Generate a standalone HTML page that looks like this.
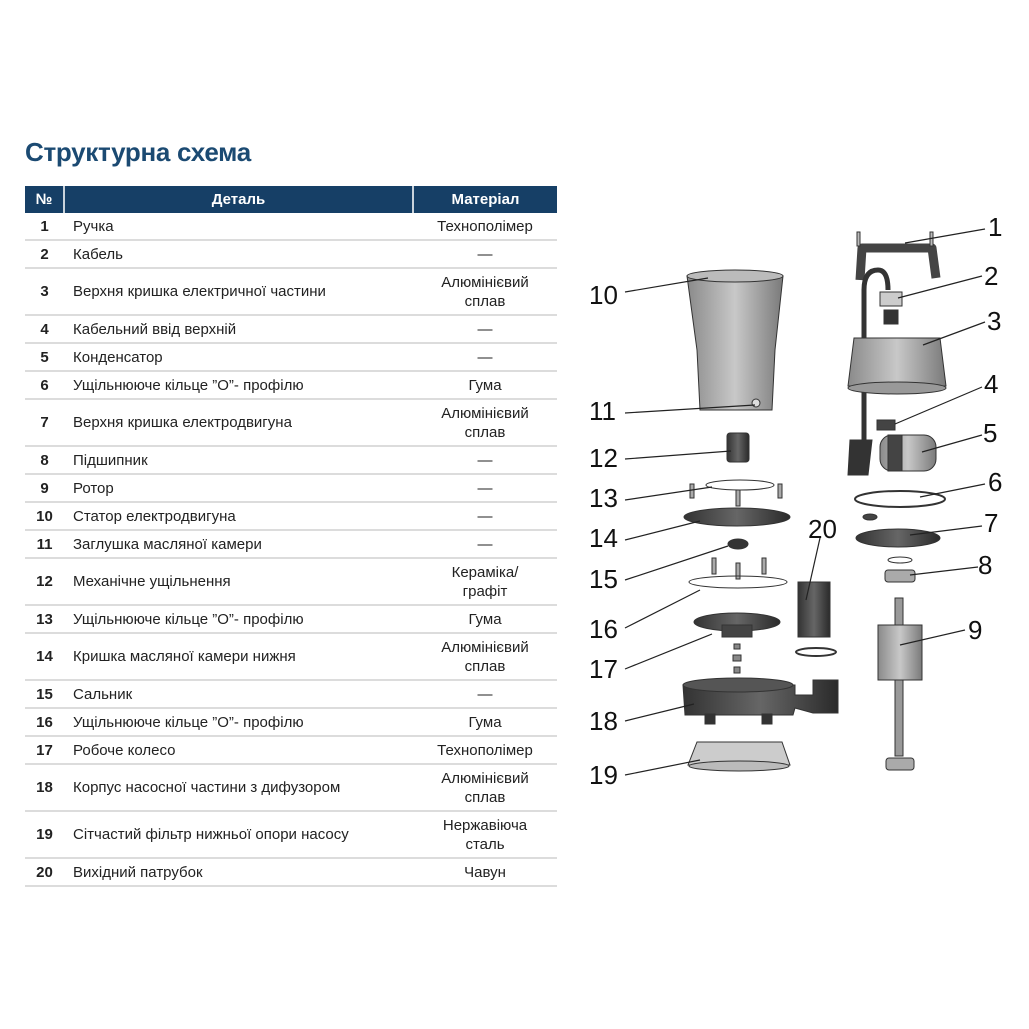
<!DOCTYPE html>
<html><head><meta charset="utf-8"><style>
body{margin:0;width:1029px;height:1029px;background:#fff;position:relative;font-family:"Liberation Sans",sans-serif;overflow:hidden}
h1{position:absolute;left:25px;top:137px;margin:0;font-size:26px;color:#1b4a72;font-weight:bold;letter-spacing:-0.3px}
table{position:absolute;left:25px;top:186px;width:532px;border-collapse:collapse;font-size:15px;color:#222}
th{background:#163f66;color:#fff;height:27px;padding:0;font-size:15px;border-right:2px solid #c9d3dc}
th:last-child{border-right:none}
td{border-bottom:2px solid #dcdcdc;padding:0;line-height:19px}
td.n{text-align:center;font-weight:bold;width:38px}
td.d{padding-left:9px}
td.m{text-align:center;width:143px}
tr.s td{height:26px}
tr.w td{height:45px}
svg{position:absolute;left:0;top:0}
</style></head><body>
<h1>Структурна схема</h1>
<table>
<tr><th style="width:38px">№</th><th>Деталь</th><th style="width:143px">Матеріал</th></tr>
<tr class="s"><td class="n">1</td><td class="d">Ручка</td><td class="m">Технополімер</td></tr>
<tr class="s"><td class="n">2</td><td class="d">Кабель</td><td class="m">—</td></tr>
<tr class="w"><td class="n">3</td><td class="d">Верхня кришка електричної частини</td><td class="m">Алюмінієвий<br>сплав</td></tr>
<tr class="s"><td class="n">4</td><td class="d">Кабельний ввід верхній</td><td class="m">—</td></tr>
<tr class="s"><td class="n">5</td><td class="d">Конденсатор</td><td class="m">—</td></tr>
<tr class="s"><td class="n">6</td><td class="d">Ущільнююче кільце ”О”- профілю</td><td class="m">Гума</td></tr>
<tr class="w"><td class="n">7</td><td class="d">Верхня кришка електродвигуна</td><td class="m">Алюмінієвий<br>сплав</td></tr>
<tr class="s"><td class="n">8</td><td class="d">Підшипник</td><td class="m">—</td></tr>
<tr class="s"><td class="n">9</td><td class="d">Ротор</td><td class="m">—</td></tr>
<tr class="s"><td class="n">10</td><td class="d">Статор електродвигуна</td><td class="m">—</td></tr>
<tr class="s"><td class="n">11</td><td class="d">Заглушка масляної камери</td><td class="m">—</td></tr>
<tr class="w"><td class="n">12</td><td class="d">Механічне ущільнення</td><td class="m">Кераміка/<br>графіт</td></tr>
<tr class="s"><td class="n">13</td><td class="d">Ущільнююче кільце ”О”- профілю</td><td class="m">Гума</td></tr>
<tr class="w"><td class="n">14</td><td class="d">Кришка масляної камери нижня</td><td class="m">Алюмінієвий<br>сплав</td></tr>
<tr class="s"><td class="n">15</td><td class="d">Сальник</td><td class="m">—</td></tr>
<tr class="s"><td class="n">16</td><td class="d">Ущільнююче кільце ”О”- профілю</td><td class="m">Гума</td></tr>
<tr class="s"><td class="n">17</td><td class="d">Робоче колесо</td><td class="m">Технополімер</td></tr>
<tr class="w"><td class="n">18</td><td class="d">Корпус насосної частини з дифузором</td><td class="m">Алюмінієвий<br>сплав</td></tr>
<tr class="w"><td class="n">19</td><td class="d">Сітчастий фільтр нижньої опори насосу</td><td class="m">Нержавіюча<br>сталь</td></tr>
<tr class="s"><td class="n">20</td><td class="d">Вихідний патрубок</td><td class="m">Чавун</td></tr>
</table>
<svg width="1029" height="1029" viewBox="0 0 1029 1029">
<defs>
<linearGradient id="g" x1="0" x2="1"><stop offset="0" stop-color="#8a8a8a"/><stop offset=".5" stop-color="#c8c8c8"/><stop offset="1" stop-color="#7a7a7a"/></linearGradient>
<linearGradient id="d" x1="0" x2="1"><stop offset="0" stop-color="#333"/><stop offset=".5" stop-color="#666"/><stop offset="1" stop-color="#2a2a2a"/></linearGradient>
</defs>
<g stroke="#333" stroke-width="1">
<path d="M687 276 L783 276 L775 350 L772 410 L700 410 L697 350 Z" fill="url(#g)"/>
<ellipse cx="735" cy="276" rx="48" ry="6" fill="#bbb"/>
<circle cx="756" cy="403" r="4" fill="#ddd"/>
<rect x="727" y="433" width="22" height="29" rx="3" fill="url(#d)"/>
<ellipse cx="740" cy="485" rx="34" ry="5" fill="none"/>
<g fill="#aaa"><rect x="690" y="484" width="4" height="14"/><rect x="736" y="490" width="4" height="16"/><rect x="778" y="484" width="4" height="14"/></g>
<ellipse cx="737" cy="517" rx="53" ry="9" fill="url(#d)"/>
<ellipse cx="738" cy="544" rx="10" ry="5" fill="#333"/>
<g fill="#aaa"><rect x="712" y="558" width="4" height="16"/><rect x="736" y="563" width="4" height="16"/><rect x="762" y="558" width="4" height="16"/></g>
<ellipse cx="738" cy="582" rx="49" ry="6" fill="none"/>
<ellipse cx="737" cy="622" rx="43" ry="9" fill="url(#d)"/>
<rect x="722" y="625" width="30" height="12" fill="#444"/>
<g fill="#888"><rect x="734" y="644" width="6" height="5"/><rect x="733" y="655" width="8" height="6"/><rect x="734" y="667" width="6" height="6"/></g>
<path d="M683 685 L795 685 L795 695 L813 695 L813 680 L838 680 L838 713 L813 713 L795 708 L793 715 L685 715 Z" fill="url(#d)"/>
<ellipse cx="738" cy="685" rx="55" ry="7" fill="#555"/>
<rect x="705" y="714" width="10" height="10" fill="#333"/><rect x="762" y="714" width="10" height="10" fill="#333"/>
<path d="M697 742 L782 742 L790 765 L688 765 Z" fill="#ccc"/>
<ellipse cx="739" cy="766" rx="50" ry="5" fill="#bbb"/>
<rect x="798" y="582" width="32" height="55" fill="url(#d)"/>
<ellipse cx="816" cy="652" rx="20" ry="4" fill="none" stroke-width="2"/>
<path d="M860 280 L862 248 L932 248 L936 278" fill="none" stroke="#444" stroke-width="9" stroke-linejoin="round"/>
<g fill="#bbb"><rect x="857" y="232" width="3" height="14"/><rect x="930" y="232" width="3" height="14"/></g>
<path d="M864 460 L864 290 Q864 270 878 270 Q888 270 888 290" fill="none" stroke="#333" stroke-width="5"/>
<rect x="880" y="292" width="22" height="14" fill="#ccc"/>
<rect x="884" y="310" width="14" height="14" fill="#333"/>
<path d="M850 440 L872 440 L868 475 L848 475 Z" fill="#333"/>
<path d="M854 338 L940 338 L946 386 L848 386 Z" fill="url(#g)"/>
<ellipse cx="897" cy="388" rx="49" ry="6" fill="#999"/>
<rect x="877" y="420" width="18" height="10" fill="#444"/>
<rect x="880" y="435" width="56" height="36" rx="12" fill="url(#g)"/>
<rect x="888" y="435" width="14" height="36" fill="#444"/>
<ellipse cx="900" cy="499" rx="45" ry="8" fill="none" stroke-width="2"/>
<ellipse cx="870" cy="517" rx="7" ry="3" fill="#444"/>
<ellipse cx="898" cy="538" rx="42" ry="9" fill="url(#d)"/>
<ellipse cx="900" cy="560" rx="12" ry="3" fill="none"/>
<rect x="885" y="570" width="30" height="12" rx="3" fill="#aaa"/>
<rect x="895" y="598" width="8" height="158" fill="#999"/>
<rect x="878" y="625" width="44" height="55" fill="url(#g)"/>
<rect x="886" y="758" width="28" height="12" rx="3" fill="#aaa"/>
</g>
<g stroke="#222" stroke-width="1.2">
<line x1="985" y1="229" x2="905" y2="243"/>
<line x1="982" y1="276" x2="898" y2="298"/>
<line x1="985" y1="322" x2="923" y2="345"/>
<line x1="982" y1="387" x2="895" y2="424"/>
<line x1="982" y1="435" x2="922" y2="452"/>
<line x1="985" y1="484" x2="920" y2="497"/>
<line x1="982" y1="526" x2="910" y2="535"/>
<line x1="978" y1="567" x2="910" y2="575"/>
<line x1="965" y1="630" x2="900" y2="645"/>
<line x1="625" y1="292" x2="708" y2="278"/>
<line x1="625" y1="413" x2="755" y2="405"/>
<line x1="625" y1="459" x2="731" y2="451"/>
<line x1="625" y1="500" x2="712" y2="487"/>
<line x1="625" y1="540" x2="700" y2="521"/>
<line x1="625" y1="580" x2="728" y2="546"/>
<line x1="625" y1="628" x2="700" y2="590"/>
<line x1="625" y1="669" x2="712" y2="634"/>
<line x1="625" y1="721" x2="694" y2="704"/>
<line x1="625" y1="775" x2="700" y2="760"/>
<line x1="820" y1="538" x2="806" y2="600"/>
</g>
<g font-family="Liberation Sans, sans-serif" font-size="26" fill="#111">
<text x="988" y="236">1</text><text x="984" y="285">2</text><text x="987" y="330">3</text>
<text x="984" y="393">4</text><text x="983" y="442">5</text><text x="988" y="491">6</text>
<text x="984" y="532">7</text><text x="978" y="574">8</text><text x="968" y="639">9</text>
<text x="589" y="304">10</text><text x="589" y="420">11</text><text x="589" y="467">12</text>
<text x="589" y="507">13</text><text x="589" y="547">14</text><text x="589" y="588">15</text>
<text x="589" y="638">16</text><text x="589" y="678">17</text><text x="589" y="730">18</text>
<text x="589" y="784">19</text><text x="808" y="538">20</text>
</g>
</svg>
</body></html>
